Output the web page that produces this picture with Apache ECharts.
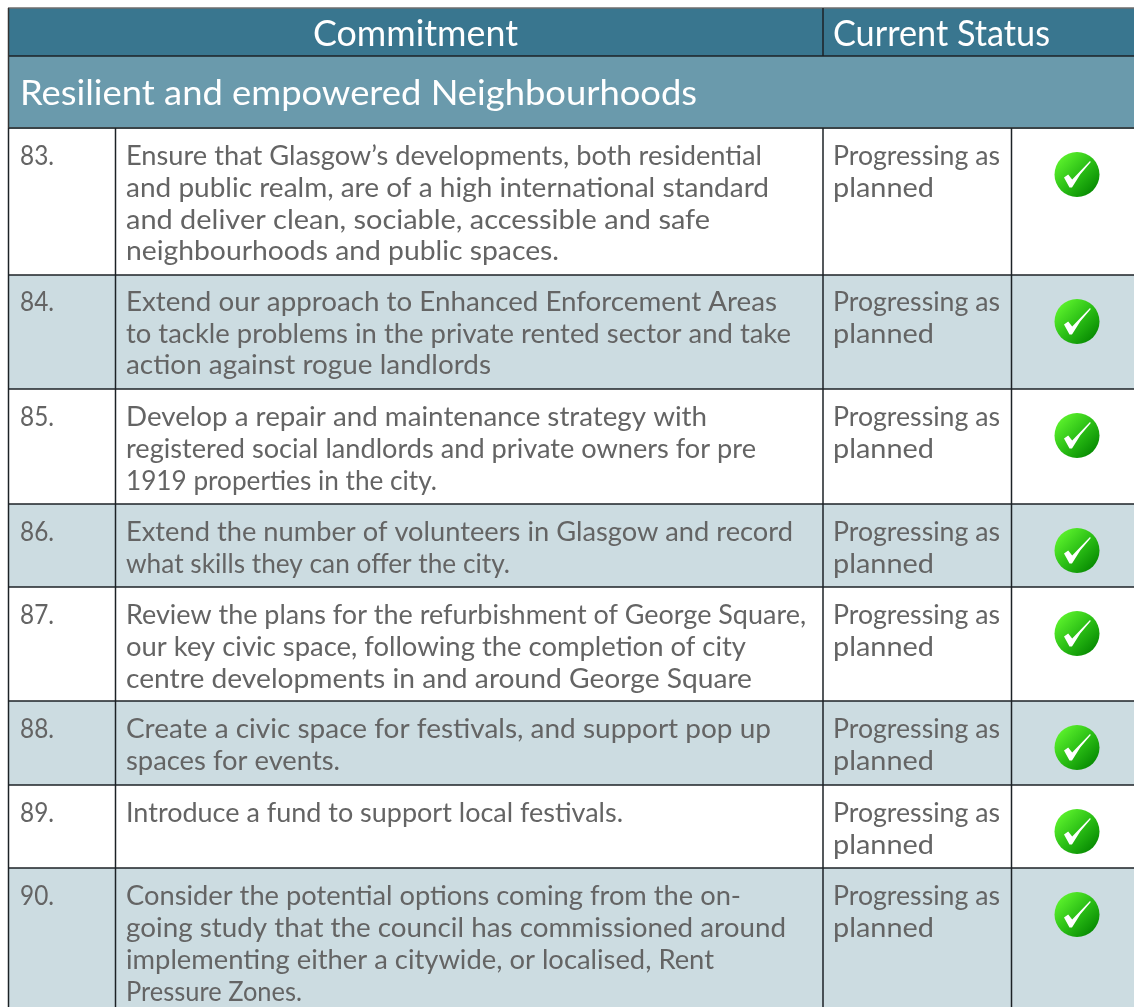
<!DOCTYPE html>
<html>
<head>
<meta charset="utf-8">
<style>html,body{margin:0;padding:0;background:#fff}#c{width:1134px;height:1007px}</style>
<script src="https://cdn.jsdelivr.net/npm/echarts@6/dist/echarts.min.js"></script>
</head>
<body>
<div id="c"></div>
<script>
const headers = ['Commitment', 'Current Status'];
const groupTitle = 'Resilient and empowered Neighbourhoods';
const numbers = ['83.', '84.', '85.', '86.', '87.', '88.', '89.', '90.'];
const commitments = [
  ['Ensure that Glasgow’s developments, both residential', 'and public realm, are of a high international standard', 'and deliver clean, sociable, accessible and safe', 'neighbourhoods and public spaces.'],
  ['Extend our approach to Enhanced Enforcement Areas', 'to tackle problems in the private rented sector and take', 'action against rogue landlords'],
  ['Develop a repair and maintenance strategy with', 'registered social landlords and private owners for pre', '1919 properties in the city.'],
  ['Extend the number of volunteers in Glasgow and record', 'what skills they can offer the city.'],
  ['Review the plans for the refurbishment of George Square,', 'our key civic space, following the completion of city', 'centre developments in and around George Square'],
  ['Create a civic space for festivals, and support pop up', 'spaces for events.'],
  ['Introduce a fund to support local festivals.'],
  ['Consider the potential options coming from the on-', 'going study that the council has commissioned around', 'implementing either a citywide, or localised, Rent', 'Pressure Zones.']
];
const statusLines = ['Progressing as', 'planned'];

// layout of the table, in page pixels
const rowTops = [128, 275, 389, 504, 587, 701, 785, 868];
const rowBottoms = [275, 389, 504, 587, 701, 785, 868, 1040];
const rowTextOffsets = [28.4, 27.2, 28, 28, 28, 28, 28, 28];
const rowLinePitch = [31.7, 31.7, 32, 32, 32, 32, 32, 32];
const commitmentEnds = [
  [762, 769, 710, 559], [777, 791, 491], [707, 756, 437], [793, 510],
  [806, 746, 752], [771, 340], [623], [741, 786, 714, 302]
];
const statusEnds = [1000, 934];

const FONT = 'Lato, "Open Sans", sans-serif';
const INK = '#646464';
const LINE = '#1c2226';

const chart = echarts.init(document.getElementById('c'), null, {renderer: 'canvas'});
const ruler = document.createElement('canvas').getContext('2d');

function txtFit(api, x, y, s, size, fill, endX) {
  const font = size + 'px ' + FONT;
  ruler.font = font;
  const sx = (endX - x) / ruler.measureText(s).width;
  const p = api.coord([x, y]);
  return {type: 'text', x: p[0], y: p[1], scaleX: sx, z2: 5,
    style: {text: s, fill: fill, font: font, verticalAlign: 'middle', align: 'left'}};
}
function rect(api, x0, y0, x1, y1, fill) {
  const a = api.coord([x0, y0]), b = api.coord([x1, y1]);
  return {type: 'rect', shape: {x: a[0], y: a[1], width: b[0] - a[0], height: b[1] - a[1]}, style: {fill: fill}};
}
function vline(api, x, y0, y1, color, w) {
  const a = api.coord([x, y0]), b = api.coord([x, y1]);
  return {type: 'line', z2: 3, shape: {x1: a[0], y1: a[1], x2: b[0], y2: b[1]}, style: {stroke: color, lineWidth: w || 1.5}};
}
function hline(api, y, x0, x1, color, w) {
  const a = api.coord([x0, y]), b = api.coord([x1, y]);
  return {type: 'line', z2: 3, shape: {x1: a[0], y1: a[1], x2: b[0], y2: b[1]}, style: {stroke: color, lineWidth: w || 1.5}};
}
function check(api, cx, cy) {
  const p = api.coord([cx, cy]);
  const pts = [[-13, 3], [-8.8, 0], [-4.8, 5], [13, -13.5], [13.8, -12.5], [3.2, 0], [-5, 13], [-7.5, 13]];
  return [
    {type: 'circle', z2: 5, shape: {cx: p[0], cy: p[1], r: 22.5}, style: {fill: new echarts.graphic.LinearGradient(0.12, 0.12, 0.88, 0.88, [
      {offset: 0, color: '#5cf22c'}, {offset: 0.5, color: '#2cc016'}, {offset: 1, color: '#078a02'}])}},
    {type: 'polygon', z2: 6, shape: {points: pts.map(function (d) { return [p[0] + d[0], p[1] + d[1]]; })}, style: {fill: '#ffffff'}}
  ];
}

const option = {
  animation: false,
  backgroundColor: '#ffffff',
  grid: {left: 0, right: 0, top: 0, bottom: 0},
  xAxis: {type: 'value', min: 0, max: 1134, show: false},
  yAxis: {type: 'value', min: 0, max: 1007, inverse: true, show: false},
  series: [
    {
      type: 'custom', coordinateSystem: 'cartesian2d', silent: true, clip: true,
      data: [[0]],
      renderItem: function (params, api) {
        return {type: 'group', children: [
          rect(api, 8, 8, 1134, 56, '#39768f'),
          rect(api, 8, 56, 1134, 128, '#6a9aac'),
          hline(api, 8, 8, 1134, '#6e6e6e', 1.5),
          hline(api, 56, 8, 1134, LINE, 1.5),
          hline(api, 128, 8, 1134, '#3a4448', 2),
          vline(api, 8.5, 8, 128, '#333333', 1.5),
          vline(api, 823, 8, 56, LINE, 1.5),
          txtFit(api, 313, 34.5, headers[0], 36, '#ffffff', 518),
          txtFit(api, 833, 34.5, headers[1], 36, '#ffffff', 1050),
          txtFit(api, 20, 94, groupTitle, 34, '#ffffff', 697)
        ]};
      }
    },
    {
      type: 'custom', coordinateSystem: 'cartesian2d', silent: true, clip: true,
      data: numbers.map(function (n, i) { return [i]; }),
      renderItem: function (params, api) {
        const i = api.value(0);
        const top = rowTops[i], bottom = rowBottoms[i];
        const lineY = function (k) { return top + rowTextOffsets[i] + k * rowLinePitch[i]; };
        const kids = [];
        if (i % 2 === 1) kids.push(rect(api, 8, top, 1134, bottom, '#ccdce1'));
        kids.push(hline(api, bottom, 8, 1134, LINE, 1.5));
        kids.push(vline(api, 8.5, top, bottom, LINE, 1.5));
        kids.push(vline(api, 115.5, top, bottom, LINE, 1.5));
        kids.push(vline(api, 823, top, bottom, LINE, 1.5));
        kids.push(vline(api, 1011.5, top, bottom, LINE, 1.5));
        kids.push(txtFit(api, 20, lineY(0), numbers[i], 27, INK, 54));
        commitments[i].forEach(function (s, k) {
          kids.push(txtFit(api, 126, lineY(k), s, 27, INK, commitmentEnds[i][k]));
        });
        statusLines.forEach(function (s, k) {
          kids.push(txtFit(api, 833, lineY(k), s, 27, INK, statusEnds[k]));
        });
        check(api, 1077, top + 46.5).forEach(function (c) { kids.push(c); });
        return {type: 'group', children: kids};
      }
    }
  ]
};
chart.setOption(option);
</script>
</body>
</html>
